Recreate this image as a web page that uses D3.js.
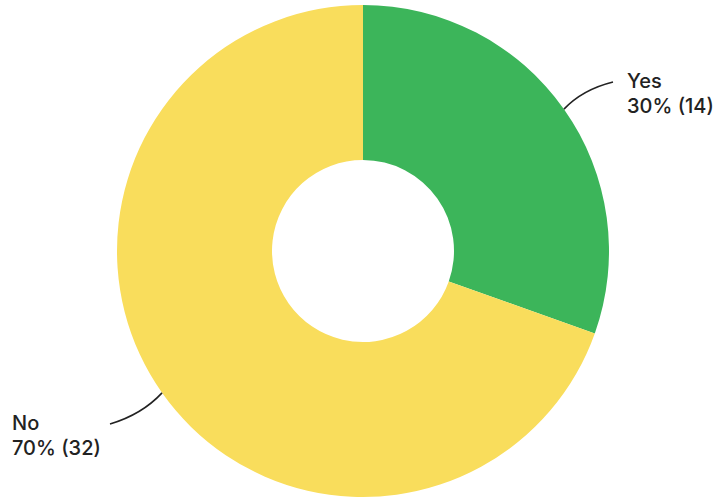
<!DOCTYPE html>
<html><head><meta charset="utf-8">
<script src="https://cdn.jsdelivr.net/npm/d3@7"></script>
<style>body{margin:0;background:#fff;} text{font-family:Inter, "Noto Sans", sans-serif;}</style>
</head><body>
<svg id="c" width="717" height="502"></svg>
<script>
const categories = ["Yes", "No"];
const counts = [14, 32];
const percents = ["30%", "70%"];
const colors = ["#3cb55a", "#f9dd5c"];

const svg = d3.select("#c");
const cx = 363, cy = 251, R = 246, r0 = 91;
const g = svg.append("g").attr("transform", `translate(${cx},${cy})`);
const pie = d3.pie().sort(null).value(d => d)(counts);
const arc = d3.arc().innerRadius(r0).outerRadius(R);
g.selectAll("path.s").data(pie).join("path").attr("class","s")
  .attr("d", arc).attr("fill", (d,i) => colors[i]);

const labelPos = [{x: 264, y: -163, anchor: "start", end: [250, -169]},
                  {x: -351, y: 179, anchor: "start", end: [-253, 173]}];
pie.forEach((d,i) => {
  const a = (d.startAngle + d.endAngle)/2;
  const sx = Math.sin(a)*R, sy = -Math.cos(a)*R;
  const [ex, ey] = labelPos[i].end;
  const mx = (sx+ex)/2, my = (sy+ey)/2;
  const bend = i === 0 ? [ -6, -6 ] : [ 6, 6 ];
  g.append("path")
    .attr("d", `M${sx},${sy} Q${mx+bend[0]},${my+bend[1]} ${ex},${ey}`)
    .attr("fill","none").attr("stroke","#222").attr("stroke-width",1.6);
  const t = g.append("text").attr("x", labelPos[i].x).attr("y", labelPos[i].y)
    .attr("font-size", 20).attr("font-weight", 500).attr("fill", "#222").attr("text-anchor", labelPos[i].anchor);
  t.append("tspan").attr("x", labelPos[i].x).text(categories[i]);
  t.append("tspan").attr("x", labelPos[i].x).attr("dy", 25).text(`${percents[i]} (${counts[i]})`);
});
</script>
</body></html>
